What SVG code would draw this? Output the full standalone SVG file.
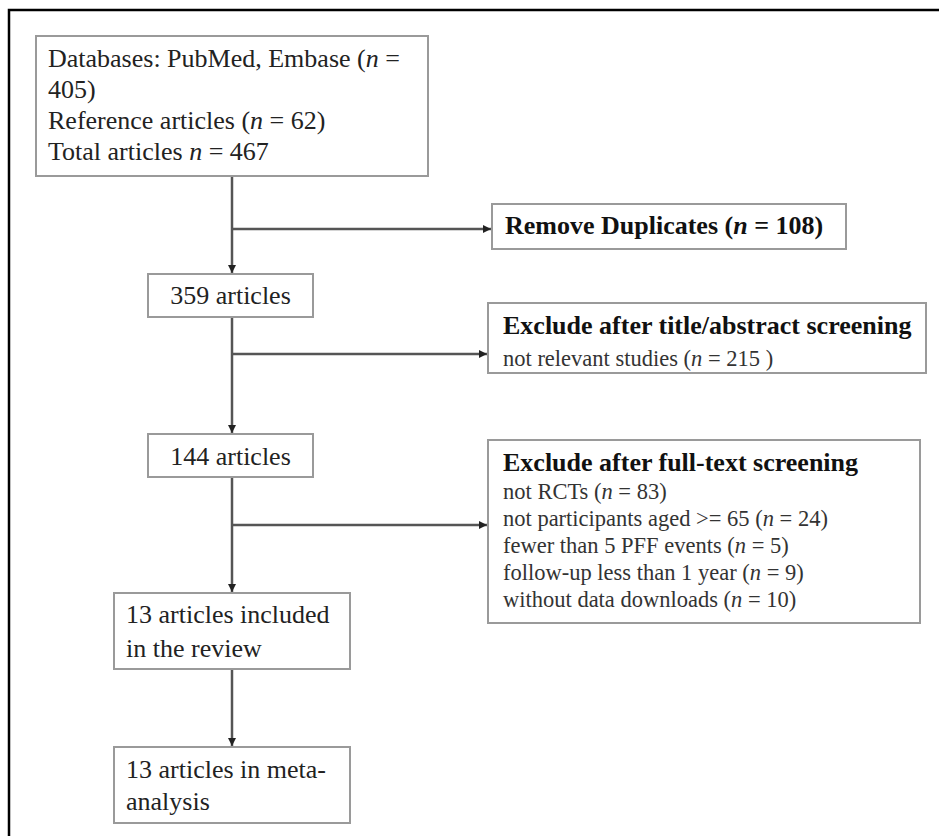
<svg xmlns="http://www.w3.org/2000/svg" width="939" height="836" viewBox="0 0 939 836">
<defs>
<marker id="ah" viewBox="0 0 10 10" refX="10" refY="5" markerWidth="8" markerHeight="8" markerUnits="userSpaceOnUse" orient="auto">
<path d="M0,0 L10,5 L0,10 z" fill="#222"/>
</marker>
</defs>
<style>
.box{fill:#fff;stroke:#9a9a9a;stroke-width:2}
.t{font-family:"Liberation Serif","Times New Roman",serif;font-size:26px;fill:#222}
.b{font-weight:bold;fill:#111}
.s{font-size:22.5px;fill:#333}
.i{font-style:italic}
.ln{fill:none;stroke:#555;stroke-width:2.5}
</style>
<rect width="939" height="836" fill="#fff"/>
<path d="M9,836 V10 H939" fill="none" stroke="#000" stroke-width="2.5"/>
<g id="connectors">
<line class="ln" x1="232" y1="176" x2="232" y2="273" marker-end="url(#ah)"/>
<line class="ln" x1="232" y1="229" x2="491" y2="229" marker-end="url(#ah)"/>
<line class="ln" x1="232" y1="317" x2="232" y2="433" marker-end="url(#ah)"/>
<line class="ln" x1="232" y1="354" x2="487" y2="354" marker-end="url(#ah)"/>
<line class="ln" x1="232" y1="477" x2="232" y2="592" marker-end="url(#ah)"/>
<line class="ln" x1="232" y1="525" x2="487" y2="525" marker-end="url(#ah)"/>
<line class="ln" x1="232" y1="669" x2="232" y2="746" marker-end="url(#ah)"/>
</g>
<g id="n-sources">
<rect class="box" x="36" y="36" width="392" height="140"/>
<text class="t" x="48" y="67">Databases: PubMed, Embase (<tspan class="i">n</tspan> =</text>
<text class="t" x="48" y="98">405)</text>
<text class="t" x="48" y="129">Reference articles (<tspan class="i">n</tspan> = 62)</text>
<text class="t" x="48" y="160">Total articles <tspan class="i">n</tspan> = 467</text>
</g>
<g id="n-duplicates">
<rect class="box" x="492" y="204" width="354" height="45"/>
<text class="t b" x="505" y="234">Remove Duplicates (<tspan class="i">n</tspan> = 108)</text>
</g>
<g id="n-359">
<rect class="box" x="148" y="274" width="165" height="43"/>
<text class="t" x="230.5" y="304" text-anchor="middle">359 articles</text>
</g>
<g id="n-title-abstract">
<rect class="box" x="488" y="303" width="438" height="70"/>
<text class="t b" x="503" y="334">Exclude after title/abstract screening</text>
<text class="t s" x="503" y="366">not relevant studies  (<tspan class="i">n</tspan> = 215 )</text>
</g>
<g id="n-144">
<rect class="box" x="148" y="434" width="165" height="43"/>
<text class="t" x="230.5" y="465" text-anchor="middle">144 articles</text>
</g>
<g id="n-fulltext">
<rect class="box" x="488" y="440" width="432" height="183"/>
<text class="t b" x="503" y="471">Exclude after full-text screening</text>
<text class="t s" x="503" y="499">not RCTs (<tspan class="i">n</tspan> = 83)</text>
<text class="t s" x="503" y="526">not participants aged &gt;= 65 (<tspan class="i">n</tspan> = 24)</text>
<text class="t s" x="503" y="553">fewer than 5 PFF events (<tspan class="i">n</tspan> = 5)</text>
<text class="t s" x="503" y="580">follow-up less than 1 year (<tspan class="i">n</tspan> = 9)</text>
<text class="t s" x="503" y="607">without data downloads (<tspan class="i">n</tspan> = 10)</text>
</g>
<g id="n-review">
<rect class="box" x="114" y="593" width="236" height="76"/>
<text class="t" x="126" y="623">13 articles included</text>
<text class="t" x="126" y="657">in the review</text>
</g>
<g id="n-meta">
<rect class="box" x="114" y="747" width="236" height="76"/>
<text class="t" x="126" y="778">13 articles in meta-</text>
<text class="t" x="126" y="810">analysis</text>
</g>
</svg>
